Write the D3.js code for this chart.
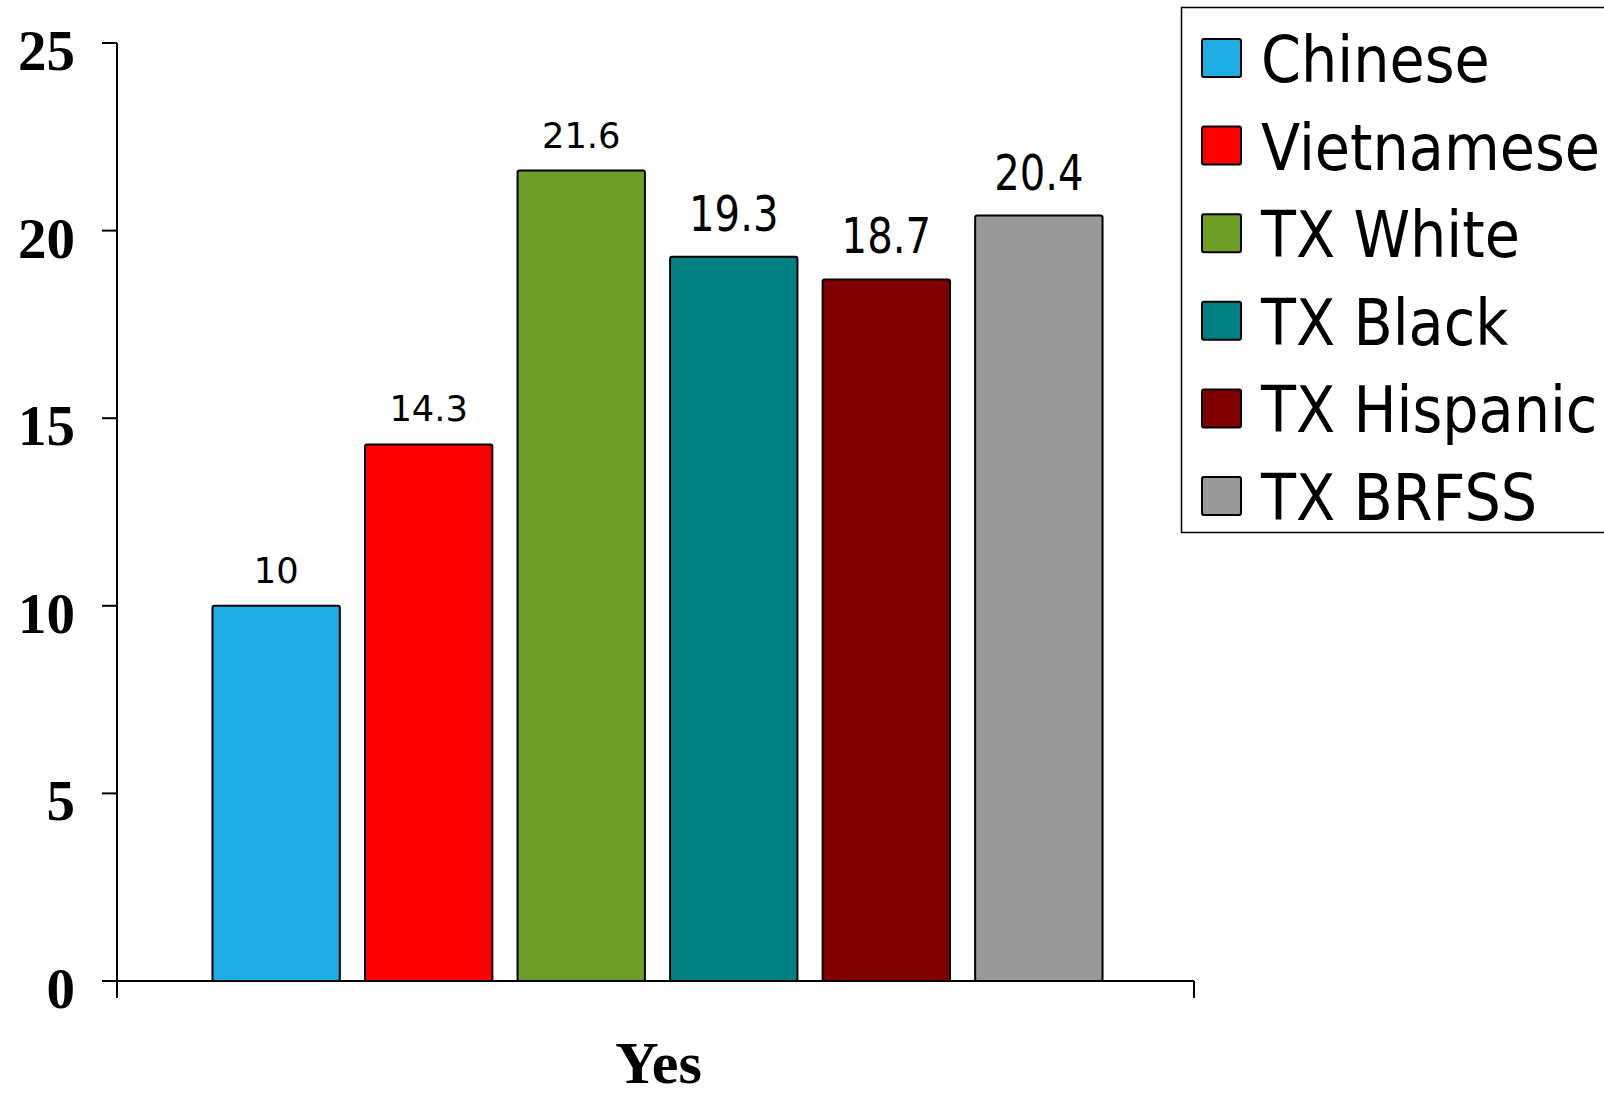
<!DOCTYPE html>
<html>
<head>
<meta charset="utf-8">
<script src="https://cdn.jsdelivr.net/npm/d3@7"></script>
<style>
  html, body { margin: 0; padding: 0; background: #fff; }
  svg { display: block; }
</style>
</head>
<body>
<svg id="chart" width="1604" height="1097"></svg>
<script>
// ---- data ----
const categories = ["Yes"];
const series = ["Chinese", "Vietnamese", "TX White", "TX Black", "TX Hispanic", "TX BRFSS"];
const values = [10, 14.3, 21.6, 19.3, 18.7, 20.4];
const colors = ["#1FADE3", "#FF0000", "#6E9E28", "#008080", "#800000", "#999999"];
const yTicks = [0, 5, 10, 15, 20, 25];

// ---- layout ----
const svg = d3.select("#chart");
const plot = { left: 117, right: 1194, top: 43, bottom: 981 };

const y = d3.scaleLinear().domain([0, 25]).range([plot.bottom, plot.top]);
const x0 = d3.scaleBand().domain(categories).range([plot.left, plot.right])
  .paddingInner(0).paddingOuter(0.105);
const x1 = d3.scaleBand().domain(series).range([0, x0.bandwidth()]).paddingInner(0.165);
const color = d3.scaleOrdinal().domain(series).range(colors);

// ---- bars ----
const g = svg.append("g");
const data = series.map((s, i) => ({ series: s, value: values[i], cat: categories[0], i }));

g.selectAll("rect.bar").data(data).join("rect")
  .attr("class", "bar")
  .attr("x", d => x0(d.cat) + x1(d.series) + 2)
  .attr("y", d => y(d.value))
  .attr("width", x1.bandwidth())
  .attr("height", d => y(0) - y(d.value))
  .attr("rx", 2)
  .attr("fill", d => color(d.series))
  .attr("stroke", "#000")
  .attr("stroke-width", 2);

// ---- value labels ----
g.selectAll("text.val").data(data).join("text")
  .attr("class", "val")
  .attr("transform", d => {
    const cx = x0(d.cat) + x1(d.series) + 2 + x1.bandwidth() / 2;
    const big = d.i >= 3;
    const by = y(d.value) - (big ? 26 : 23);
    return `translate(${cx},${by}) scale(${big ? 0.82 : 0.98},1)`;
  })
  .attr("text-anchor", "middle")
  .attr("font-family", "'DejaVu Sans', Verdana, sans-serif")
  .attr("font-size", d => d.i >= 3 ? 49 : 36)
  .attr("fill", "#000")
  .text(d => d3.format("")(d.value));

// ---- y axis ----
const yAxis = svg.append("g");
yAxis.append("line")
  .attr("x1", plot.left).attr("x2", plot.left)
  .attr("y1", y(25)).attr("y2", plot.bottom + 17)
  .attr("stroke", "#000").attr("stroke-width", 2);
yAxis.selectAll("line.tick").data(yTicks).join("line")
  .attr("class", "tick")
  .attr("x1", plot.left - 15).attr("x2", plot.left)
  .attr("y1", d => y(d)).attr("y2", d => y(d))
  .attr("stroke", "#000").attr("stroke-width", 2);
yAxis.selectAll("text").data(yTicks).join("text")
  .attr("x", 75)
  .attr("y", d => y(d) + 27)
  .attr("text-anchor", "end")
  .attr("font-family", "'Liberation Serif', 'Times New Roman', serif")
  .attr("font-weight", "bold")
  .attr("font-size", 57)
  .attr("fill", "#000")
  .text(d => d);

// ---- x axis ----
const xAxis = svg.append("g");
xAxis.append("line")
  .attr("x1", plot.left - 15).attr("x2", plot.right)
  .attr("y1", y(0)).attr("y2", y(0))
  .attr("stroke", "#000").attr("stroke-width", 2);
xAxis.append("line")
  .attr("x1", plot.right).attr("x2", plot.right)
  .attr("y1", y(0)).attr("y2", y(0) + 17)
  .attr("stroke", "#000").attr("stroke-width", 2);
xAxis.selectAll("text").data(categories).join("text")
  .attr("x", d => x0(d) + x0.bandwidth() / 2 + 3)
  .attr("y", 1083)
  .attr("text-anchor", "middle")
  .attr("font-family", "'Liberation Serif', 'Times New Roman', serif")
  .attr("font-weight", "bold")
  .attr("font-size", 60)
  .attr("fill", "#000")
  .text(d => d);

// ---- legend ----
const legend = svg.append("g");
legend.append("rect")
  .attr("x", 1181.5).attr("y", 7.5)
  .attr("width", 480).attr("height", 525)
  .attr("fill", "#fff").attr("stroke", "#000").attr("stroke-width", 1.5);
const ly = d3.scalePoint().domain(series).range([58, 496]);
const items = legend.selectAll("g.item").data(series).join("g")
  .attr("class", "item")
  .attr("transform", d => `translate(0,${ly(d)})`);
items.append("rect")
  .attr("x", 1202).attr("y", -19)
  .attr("width", 39).attr("height", 38)
  .attr("rx", 2)
  .attr("fill", d => color(d))
  .attr("stroke", "#000").attr("stroke-width", 2);
items.append("text")
  .attr("transform", "translate(1261,24) scale(0.895,1)")
  .attr("font-family", "'DejaVu Sans', Verdana, sans-serif")
  .attr("font-size", 64)
  .attr("fill", "#000")
  .text(d => d);
</script>
</body>
</html>
